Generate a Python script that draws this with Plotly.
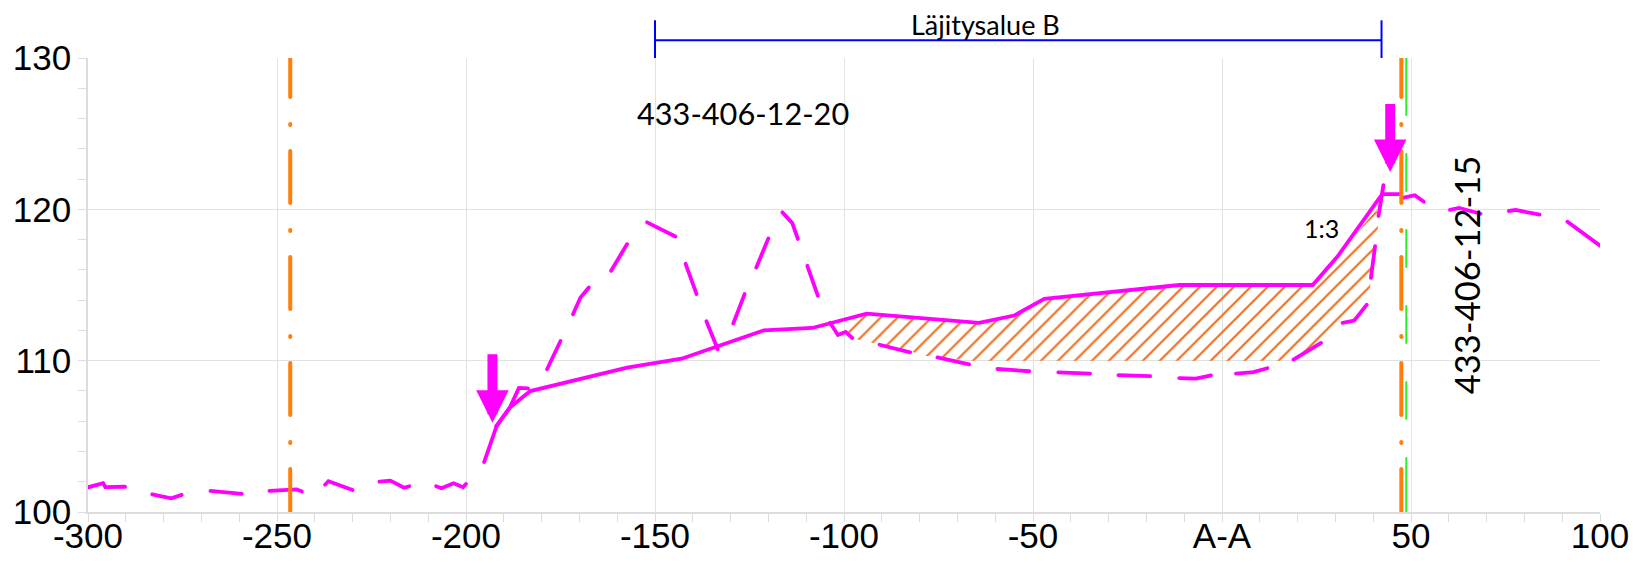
import plotly.graph_objects as go

x_ticks = [-300, -250, -200, -150, -100, -50, 0, 50, 100]
x_labels = ["-300", "-250", "-200", "-150", "-100", "-50", "A-A", "50", "100"]
y_ticks = [100, 110, 120, 130]

# Existing ground: each run between None gaps is one visible dash of the dashed profile
ground_x = [-300, -296, -295.4, -290.2, None, -283, -278, -275.2, None, -267.6, -260.3, -259.3, None,
            -252, -244.8, -243.4, None, -237.3, -236.4, -230, None, -222.9, -220, -216.4, -215, None,
            -207.9, -206.5, -203.3, -200.8, -200, None, -195.2, -191.9, -188.4, -186, -183.6, None,
            -178.55, -175, None, -171.7, -169.7, -167.5, None, -161.6, -157.4, None, -152.1, -144.6, None,
            -141.9, -139, None, -136.4, -133.4, None, -129.3, -126.3, None, -123.2, -120, None,
            -116.3, -113.7, -112.2, None, -109.7, -106.9, None, -103.7, -101.6, -99.6, -97.8, None,
            -90.6, -82.5, None, -75.3, -66.9, None, -59.4, -51, None, -43.3, -34.9, None, -27.4, -19, None,
            -11.3, -6.9, -2.9, None, 3.7, 8.3, 12, None, 18.9, 26.2, None, 31.9, 35, 38.3, None,
            39.4, 40.5, None, 41.4, 42.7, None, 48.1, 51, 53.4, None, 60.3, 62.7, 68.4, None,
            75.9, 77.7, 84, None, 91.4, 100]
ground_y = [101.63, 101.9, 101.65, 101.67, None, 101.17, 100.9, 101.13, None, 101.4, 101.17, 101.2, None,
            101.4, 101.5, 101.35, None, 101.8, 102.03, 101.45, None, 102, 102.07, 101.6, 101.7, None,
            101.7, 101.57, 101.9, 101.63, 101.85, None, 103.3, 105.67, 106.9, 108.2, 108.17, None,
            109.43, 111.3, None, 113.07, 114.17, 114.83, None, 115.94, 117.7, None, 119.14, 118.2, None,
            116.4, 114.4, None, 112.6, 110.75, None, 112.45, 114.4, None, 116.16, 118.08, None,
            119.8, 119.1, 118.04, None, 116.27, 114.28, None, 112.5, 111.7, 111.9, 111.5, None,
            111.05, 110.55, None, 110.22, 109.76, None, 109.45, 109.3, None, 109.23, 109.14, None, 109.05, 108.98, None,
            108.85, 108.81, 109.03, None, 109.15, 109.25, 109.5, None, 110.07, 111.17, None, 112.5, 112.65, 113.7, None,
            115.47, 117.57, None, 119.56, 121.6, None, 120.77, 120.93, 120.5, None, 119.96, 120.09, 119.71, None,
            119.89, 119.96, 119.65, None, 119.18, 117.6]

design_x = [-192, -188.4, -183, -157.4, -143, -121.2, -108.4, -94, -64.3, -55, -47, -11.3, 24, 30.6, 42, 42.7, 47.4]
design_y = [105.67, 106.9, 107.99, 109.54, 110.13, 112, 112.16, 113.11, 112.5, 112.98, 114.08, 115, 115, 116.9, 120.88, 121, 121]

fill_x = [-99.6, -95.6, -94, -64.3, -55, -47, -11.3, 24, 30.6, 40.9, 41.3, 40.8, 39.4, 38.5, 35, 31.9, 26.2, 18.9,
          -66.9, -70.9, -78.8, -82.3, -93.4, -97]
fill_y = [112.03, 112.87, 113.11, 112.5, 112.98, 114.08, 115, 115, 116.9, 120, 119, 117.7, 115.2, 113.9, 112.65, 112.5,
          111.17, 110, 110, 110.1, 110.33, 110.6, 111.2, 111.43]

left_limit_x = [-246.5, -246.5]
right_limit_x = [47.44, 47.44]
limit_y = [130.86, 100]
green_x = [48.76, 48.76]
green_y = [130, 100]
bracket_x = [-150, 42.2]

MAGENTA = "#ff00ff"
ORANGE = "#ff7f0a"

fig = go.Figure()
fig.add_trace(go.Scatter(x=fill_x, y=fill_y, mode="lines", line=dict(width=0), fill="toself",
                         fillcolor="rgba(0,0,0,0)",
                         fillpattern=dict(shape="/", size=12, solidity=0.17, fgcolor="#f06a1a", fgopacity=1,
                                          bgcolor="rgba(0,0,0,0)")))
fig.add_trace(go.Scatter(x=ground_x, y=ground_y, mode="lines", connectgaps=False, line=dict(color=MAGENTA, width=3.8)))
fig.add_trace(go.Scatter(x=design_x, y=design_y, mode="lines", line=dict(color=MAGENTA, width=3.8)))
fig.add_trace(go.Scatter(x=green_x, y=green_y, mode="lines",
                         line=dict(color="#2bef2b", width=2,
                                   dash="57px,39px,37px,39px,37px,39px,37px,39px,37px,39px,54px,0px")))
for xs in (left_limit_x, right_limit_x):
    fig.add_trace(go.Scatter(x=xs, y=limit_y, mode="lines",
                             line=dict(color=ORANGE, width=4, dash="52px,27px,1px,26px")))

# blue bracket above the plot area
for x0, y0, x1, y1 in ((bracket_x[0], 1.0, bracket_x[0], 1.083), (bracket_x[1], 1.0, bracket_x[1], 1.083),
                       (bracket_x[0], 1.039, bracket_x[1], 1.039)):
    fig.add_shape(type="line", xref="x", yref="paper", x0=x0, x1=x1, y0=y0, y1=y1, line=dict(color="#0000ff", width=2))

for tip_x, tip_y, tail_y in ((-193, 105.9, 110.53), (44.5, 122.47, 127.06)):
    fig.add_annotation(x=tip_x, y=tip_y, ax=tip_x, ay=tail_y, xref="x", yref="y", axref="x", ayref="y", text="",
                       showarrow=True, arrowhead=2, arrowsize=0.65, arrowwidth=10, arrowcolor=MAGENTA, standoff=0)

fig.add_annotation(x=-126.7, y=126.3, text="433-406-12-20", showarrow=False, font=dict(family="Lato", size=30.7, color="#000"))
fig.add_annotation(x=64.6, y=115.66, text="433-406-12-15", textangle=-90, showarrow=False,
                   font=dict(family="Lato", size=34.5, color="#000"))
fig.add_annotation(x=26.4, y=118.77, text="1:3", showarrow=False, font=dict(family="Lato", size=25, color="#000"))
fig.add_annotation(x=-62.5, xref="x", y=1.074, yref="paper", yanchor="middle", text="Läjitysalue B", showarrow=False,
                   font=dict(family="Lato", size=27, color="#000"))

axis_common = dict(showgrid=True, gridcolor="#e2e2e2", gridwidth=1.3, zeroline=False, showline=True, automargin=False,
                   linecolor="#dcdcdc", linewidth=1.5, ticks="outside", ticklen=8, tickcolor="#dcdcdc", tickwidth=1.2,
                   ticklabeloverflow="allow", tickfont=dict(family="Liberation Sans", size=35, color="#000"))
fig.update_layout(
    width=1633, height=563, margin=dict(l=87.9, r=33.1, t=57.6, b=51.4), autosize=False,
    paper_bgcolor="white", plot_bgcolor="white", showlegend=False,
    xaxis=dict(range=[-300, 100], tickmode="array", tickvals=x_ticks, ticktext=x_labels, ticklabelstandoff=-16,
               minor=dict(tickmode="linear", tick0=-300, dtick=10, ticks="outside", ticklen=8, tickcolor="#dcdcdc", showgrid=False),
               **axis_common),
    yaxis=dict(range=[100, 130], tickmode="array", tickvals=y_ticks,
               minor=dict(tickmode="linear", tick0=100, dtick=2, ticks="outside", ticklen=8, tickcolor="#dcdcdc", showgrid=False),
               **axis_common),
)
page_css = ("document.body.style.margin='0';document.body.style.overflow='hidden';"
            "var s=document.createElement('style');s.textContent='.js-line{stroke-linecap:round}';document.head.appendChild(s);")
fig.write_html("out.html", post_script=page_css, config=dict(displayModeBar=False))
